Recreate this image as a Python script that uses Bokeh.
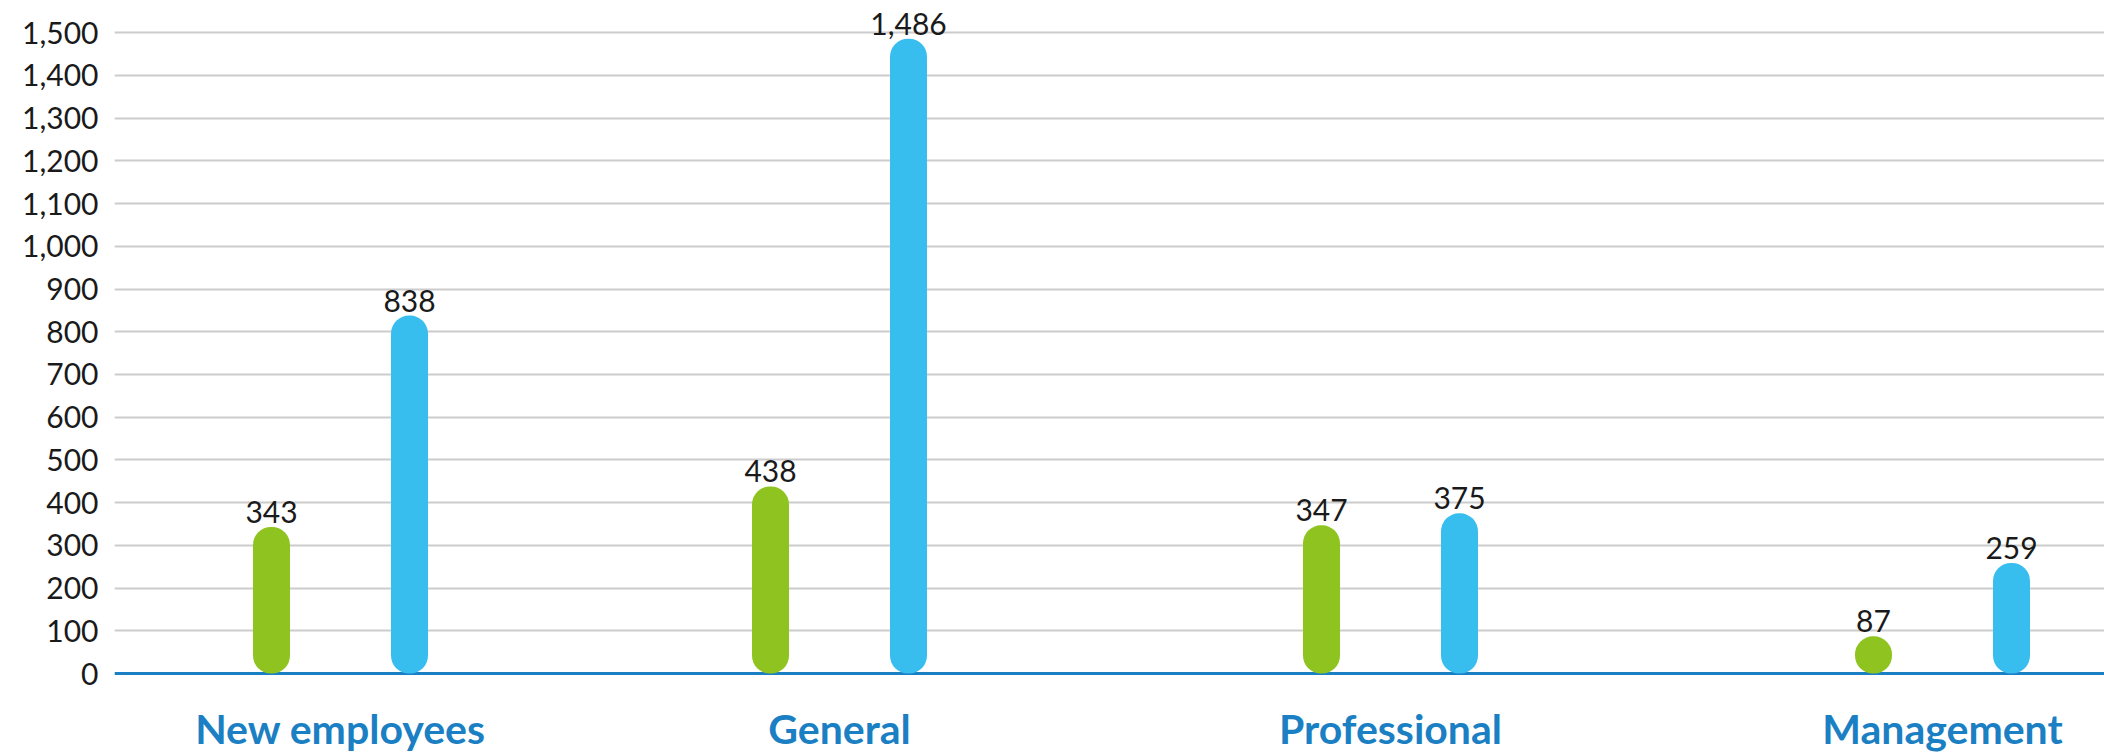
from bokeh.plotting import figure
from bokeh.models import Range1d, FixedTicker, NumeralTickFormatter, Span, ColumnDataSource
from bokeh.core.properties import value
from bokeh.embed import file_html
from bokeh.resources import INLINE

# ---- data ----
categories = ["New employees", "General", "Professional", "Management"]
green_values = [343, 438, 347, 87]
blue_values = [838, 1486, 375, 259]
y_ticks = [0, 100, 200, 300, 400, 500, 600, 700, 800, 900, 1000, 1100, 1200, 1300, 1400, 1500]

# ---- layout (x units: 1 unit = 1 px of plot frame) ----
cat_x = [226, 725, 1276, 1828]
pair_offset = 69
bar_w = 37

GREEN = "#8fc31f"
BLUE = "#38bdef"
LABEL_BLUE = "#1b7fc3"
FONT = "Lato"

frame_bottom = 693.0
px_per_unit = (674.0 - 32.3) / 1500.0
y_end = 1500 + 32.3 / px_per_unit

p = figure(width=2104, height=755, output_backend="svg", toolbar_location=None,
           x_range=Range1d(0, 1990), y_range=Range1d(-(frame_bottom - 674.0) / px_per_unit, y_end),
           min_border_left=114, min_border_right=0, min_border_top=0, min_border_bottom=60)
p.outline_line_color = None
p.background_fill_color = "white"
p.border_fill_color = "white"

# y axis
yax = p.yaxis[0]
yax.ticker = FixedTicker(ticks=y_ticks)
yax.formatter = NumeralTickFormatter(format="0,0")
yax.axis_line_color = None
yax.major_tick_line_color = None
yax.minor_tick_line_color = None
yax.major_tick_out = 0
yax.major_tick_in = 0
yax.major_label_standoff = 16
yax.major_label_text_font = FONT
yax.major_label_text_font_size = "30px"
yax.major_label_text_color = "#1a1a1a"

# x axis with category labels
xax = p.xaxis[0]
xax.ticker = FixedTicker(ticks=cat_x)
xax.major_label_overrides = {x: c for x, c in zip(cat_x, categories)}
xax.axis_line_color = None
xax.major_tick_line_color = None
xax.minor_tick_line_color = None
xax.major_tick_out = 0
xax.major_tick_in = 0
xax.major_label_standoff = 11
xax.major_label_text_font = FONT
xax.major_label_text_font_style = "bold"
xax.major_label_text_font_size = "41px"
xax.major_label_text_color = LABEL_BLUE

p.xgrid.grid_line_color = None
p.ygrid.grid_line_color = "#cccccc"
p.ygrid.grid_line_width = 2

base = Span(location=0, dimension="width", line_color="#1b7fc3", line_width=3, level="underlay")
p.add_layout(base)

gx = [x - pair_offset for x in cat_x]
bx = [x + pair_offset for x in cat_x]
src_g = ColumnDataSource(dict(x=gx, top=green_values, lab=[f"{v:,}" for v in green_values]))
src_b = ColumnDataSource(dict(x=bx, top=blue_values, lab=[f"{v:,}" for v in blue_values]))

for src, col in ((src_g, GREEN), (src_b, BLUE)):
    p.vbar(x="x", top="top", bottom=0, width=bar_w, source=src,
           fill_color=col, line_color=None, border_radius=18)
    p.text(x="x", y="top", text="lab", source=src, text_align="center",
           text_baseline="alphabetic", y_offset=-15, text_font=value(FONT),
           text_font_size="30px", text_color="#1a1a1a")

open("out.html", "w").write(file_html(p, INLINE))
